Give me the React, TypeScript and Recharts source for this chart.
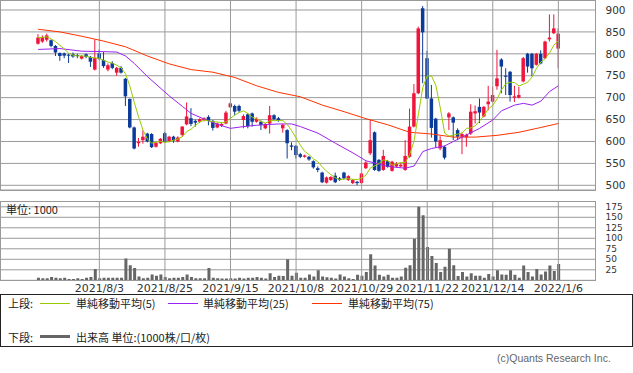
import React from 'react';
import { ComposedChart, Bar, Line, XAxis, YAxis, CartesianGrid, ReferenceLine } from 'recharts';

// daily candles, 2021/7/12 .. 2022/1/6 (trading days)
const openPrices = [
  823, 828, 832, 831, 818, 802, 801, 798, 799, 797, 789, 799, 793, 764, 801, 786, 764, 779, 757, 768,
  743, 697, 632, 596, 603, 618, 617, 588, 596, 619, 600, 611, 600, 615, 639, 653, 647, 645, 649, 656,
  647, 632, 636, 641, 678, 681, 681, 649, 662, 664, 645, 645, 630, 641, 660, 653, 630, 626, 591, 590,
  571, 565, 565, 555, 539, 529, 506, 512, 522, 516, 529, 512, 505, 508, 505, 539, 573, 621, 558, 535,
  555, 533, 543, 543, 535, 565, 634, 710, 904, 790, 698, 652, 584, 588, 655, 655, 626, 611, 610, 618,
  664, 679, 657, 685, 691, 726, 787, 750, 759, 700, 700, 737, 800, 800, 775, 800, 790, 833, 847, 812,
];
const highPrices = [
  845, 842, 846, 833, 820, 803, 803, 800, 803, 800, 797, 801, 795, 833, 810, 804, 778, 783, 770, 772,
  745, 698, 634, 608, 625, 620, 619, 600, 608, 622, 613, 613, 612, 635, 689, 676, 650, 653, 655, 660,
  649, 643, 643, 670, 690, 684, 684, 662, 665, 666, 655, 648, 642, 681, 662, 656, 640, 628, 598, 592,
  574, 570, 567, 557, 543, 531, 520, 521, 529, 519, 531, 523, 514, 510, 529, 555, 650, 623, 560, 581,
  558, 556, 553, 550, 603, 675, 731, 862, 909, 807, 729, 654, 612, 590, 667, 657, 630, 620, 618, 685,
  682, 698, 681, 727, 725, 809, 790, 767, 761, 727, 725, 793, 802, 802, 802, 808, 830, 890, 890, 858,
];
const lowPrices = [
  821, 825, 828, 815, 795, 784, 790, 779, 791, 790, 787, 790, 770, 762, 786, 768, 760, 765, 750, 755,
  681, 630, 582, 588, 595, 598, 585, 586, 594, 597, 598, 597, 598, 611, 637, 635, 634, 642, 646, 637,
  625, 630, 633, 639, 676, 660, 666, 630, 630, 634, 643, 626, 628, 618, 648, 645, 620, 561, 580, 561,
  562, 563, 556, 538, 530, 505, 504, 510, 505, 510, 513, 510, 503, 500, 503, 537, 569, 533, 531, 533,
  540, 531, 541, 541, 533, 563, 632, 708, 733, 697, 609, 587, 580, 559, 626, 603, 603, 571, 588, 615,
  641, 642, 655, 671, 689, 718, 710, 706, 691, 690, 698, 735, 757, 749, 773, 776, 788, 828, 845, 767,
];
const closePrices = [
  837, 838, 842, 818, 803, 795, 796, 796, 794, 795, 795, 793, 782, 790, 788, 772, 774, 768, 768, 757,
  703, 632, 584, 599, 611, 600, 587, 597, 606, 599, 611, 602, 609, 634, 657, 640, 643, 651, 653, 647,
  631, 641, 640, 666, 687, 668, 670, 658, 635, 645, 652, 638, 640, 660, 651, 649, 638, 596, 588, 569,
  565, 568, 559, 541, 535, 507, 518, 519, 507, 512, 516, 521, 512, 505, 527, 552, 603, 535, 533, 567,
  542, 554, 550, 547, 567, 634, 710, 858, 849, 698, 631, 600, 603, 563, 664, 643, 611, 617, 615, 668,
  669, 666, 679, 691, 706, 744, 771, 748, 706, 703, 706, 790, 771, 767, 800, 778, 828, 837, 858, 846,
];
// volume, unit 1000
const volumes = [
  6, 5, 5, 8, 6, 5, 6, 3, 3, 5, 3, 6, 8, 27, 5, 6, 6, 6, 6, 6,
  52, 36, 29, 9, 5, 6, 14, 11, 14, 8, 5, 6, 6, 8, 14, 8, 5, 5, 5, 29,
  6, 5, 4, 4, 5, 4, 6, 4, 6, 6, 8, 6, 4, 17, 8, 11, 10, 50, 11, 18,
  6, 6, 14, 9, 24, 9, 7, 6, 4, 14, 9, 5, 3, 13, 11, 20, 62, 35, 13, 9,
  13, 6, 6, 9, 30, 36, 99, 175, 155, 79, 58, 41, 20, 32, 75, 36, 10, 20, 9, 17,
  11, 11, 6, 15, 9, 24, 14, 13, 24, 13, 6, 35, 20, 9, 27, 14, 21, 35, 22, 39,
];

// moving averages at these day positions
const ma25Days = [0, 5, 10, 15, 18, 20, 22, 25, 30, 33, 35, 38, 40, 42, 44, 47, 50, 55, 58, 60, 64, 68, 72, 75, 80, 84, 86, 88, 90, 93, 95, 98, 101, 104, 106, 109, 111, 113, 115, 117, 119];
const ma25Values = [810, 812, 806, 805, 804, 795, 778, 748, 704, 680, 664, 651, 643, 636, 630, 634, 637, 640, 640, 634, 619, 596, 574, 556, 543, 539, 544, 577, 584, 590, 600, 615, 630, 649, 670, 683, 687, 683, 692, 714, 727];
const ma75Days = [0, 5, 10, 15, 20, 25, 30, 35, 40, 45, 50, 55, 60, 65, 70, 75, 80, 85, 90, 95, 100, 105, 110, 115, 119];
const ma75Values = [856, 850, 840, 829, 816, 795, 777, 764, 758, 746, 727, 712, 702, 683, 668, 652, 638, 621, 617, 610, 610, 614, 621, 632, 641];

const tickDays = [14, 29, 44, 59, 74, 89, 104, 119];
const tickLabels = ['2021/8/3', '2021/8/25', '2021/9/15', '2021/10/8', '2021/10/29', '2021/11/22', '2021/12/14', '2022/1/6'];
const priceTicks = [500, 550, 600, 650, 700, 750, 800, 850, 900];
const volumeTicks = [25, 50, 75, 100, 125, 150, 175];

const UP = '#F0143C';
const DOWN = '#0C3A98';
const MA5_COLOR = '#99CC00';
const MA25_COLOR = '#9A22F2';
const MA75_COLOR = '#FF3300';
const GRID = '#9a9a9a';
const PAD = 8;

const ma5 = closePrices.map((_, i) => {
  const part = closePrices.slice(Math.max(0, i - 4), i + 1);
  return part.reduce((a, b) => a + b, 0) / part.length;
});

const rows: any[] = [];
for (let s = -PAD; s < closePrices.length + PAD; s++) {
  const inRange = s >= 0 && s < closePrices.length;
  const i25 = ma25Days.indexOf(s);
  const i75 = ma75Days.indexOf(s);
  rows.push({
    slot: s,
    range: inRange ? [lowPrices[s], highPrices[s]] : null,
    open: inRange ? openPrices[s] : null,
    high: inRange ? highPrices[s] : null,
    low: inRange ? lowPrices[s] : null,
    close: inRange ? closePrices[s] : null,
    vol: inRange ? volumes[s] : null,
    ma5: inRange ? ma5[s] : null,
    ma25: i25 >= 0 ? ma25Values[i25] : null,
    ma75: i75 >= 0 ? ma75Values[i75] : null,
  });
}

const Candle = (props: any) => {
  const { x, y, width, height, payload } = props;
  if (!payload || payload.open == null) return null;
  const top = Math.min(y, y + height);
  const span = Math.abs(height);
  const { open, close, high, low } = payload;
  const toY = (v: number) => (high === low ? top : top + ((high - v) / (high - low)) * span);
  const cx = x + width / 2;
  const color = close >= open ? UP : DOWN;
  const bTop = toY(Math.max(open, close));
  const bBot = toY(Math.min(open, close));
  return (
    <g>
      <line x1={cx} x2={cx} y1={top} y2={top + span} stroke={color} strokeWidth={1} />
      <rect x={cx - 1.75} y={bTop} width={3.5} height={Math.max(1, bBot - bTop)} fill={color} />
    </g>
  );
};

const tickStyle = { fontSize: 11, fill: '#333', fontFamily: 'DejaVu Sans' };
const jp = '"Noto Sans CJK JP", sans-serif';

const label = (left: number, top: number, text: string, extra: any = {}) => (
  <div style={{ position: 'absolute', left, top, fontSize: 11, lineHeight: '14px', fontFamily: jp, color: '#222', whiteSpace: 'nowrap', ...extra }}>{text}</div>
);
const swatch = (left: number, top: number, color: string, h = 1) => (
  <div style={{ position: 'absolute', left, top, width: 30, height: h, background: color }} />
);

export default function App() {
  return (
    <div style={{ position: 'fixed', left: 0, top: 0, width: 633, height: 373, background: '#fff', overflow: 'hidden' }}>
      <div style={{ position: 'absolute', left: 0, top: 0 }}>
        <ComposedChart width={633} height={196} data={rows} margin={{ top: 0, right: 0, bottom: 6, left: 1 }} barCategoryGap={0}>
          <CartesianGrid vertical={false} stroke={GRID} />
          <XAxis dataKey="slot" type="category" hide />
          <YAxis orientation="right" width={37.5} domain={[489.3, 922.8]} ticks={priceTicks} interval={0} allowDataOverflow
            axisLine={false} tickLine={false} tickSize={0} tickMargin={10} tick={{ ...tickStyle, fontSize: 10.5 }} />
          {tickDays.map(d => <ReferenceLine key={d} x={d} stroke={GRID} />)}
          <Bar dataKey="range" shape={Candle} isAnimationActive={false} />
          <Line dataKey="ma75" stroke={MA75_COLOR} strokeWidth={1} dot={false} connectNulls isAnimationActive={false} />
          <Line dataKey="ma25" stroke={MA25_COLOR} strokeWidth={1} dot={false} connectNulls isAnimationActive={false} />
          <Line dataKey="ma5" stroke={MA5_COLOR} strokeWidth={1} dot={false} isAnimationActive={false} />
        </ComposedChart>
      </div>
      <div style={{ position: 'absolute', left: 0, top: 0, width: 594, height: 189, border: '1px solid ' + GRID }} />

      <div style={{ position: 'absolute', left: 0, top: 195 }}>
        <ComposedChart width={633} height={106} data={rows} margin={{ top: 6.5, right: 0, bottom: 0, left: 1 }}>
          <CartesianGrid vertical={false} stroke={GRID} />
          <XAxis dataKey="slot" type="category" height={20.7} ticks={tickDays} interval={0}
            tickFormatter={(v: any) => tickLabels[tickDays.indexOf(Number(v))] ?? ''}
            axisLine={false} tickLine={false} tickSize={0} tickMargin={3.6} tick={tickStyle} />
          <YAxis orientation="right" width={37.5} domain={[0, 187.6]} ticks={volumeTicks} interval={0} allowDataOverflow
            axisLine={false} tickLine={false} tickSize={0} tickMargin={10} tick={{ ...tickStyle, fontSize: 9 }} />
          {tickDays.map(d => <ReferenceLine key={d} x={d} stroke={GRID} />)}
          <Bar dataKey="vol" fill="#666666" barSize={3} isAnimationActive={false} />
        </ComposedChart>
      </div>
      <div style={{ position: 'absolute', left: 0, top: 201, width: 594, height: 78.3, border: '1px solid ' + GRID }} />
      {label(6, 202, '単位: 1000')}

      <div style={{ position: 'absolute', left: 0, top: 294, width: 631, height: 50.5, border: '1px solid #222' }} />
      {label(8, 296, '上段:')}
      {swatch(40, 303, MA5_COLOR)}
      {label(76, 296, '単純移動平均(5)')}
      {swatch(168, 303, MA25_COLOR)}
      {label(203, 296, '単純移動平均(25)')}
      {swatch(312, 303, MA75_COLOR)}
      {label(348, 296, '単純移動平均(75)')}
      {label(8, 330, '下段:')}
      {swatch(40, 335, '#666666', 3)}
      {label(76, 330, '出来高 単位:(1000株/口/枚)')}
      {label(497, 351, '(c)Quants Research Inc.', { color: '#666', fontFamily: '"Liberation Sans", sans-serif', fontSize: 10.5 })}
    </div>
  );
}
